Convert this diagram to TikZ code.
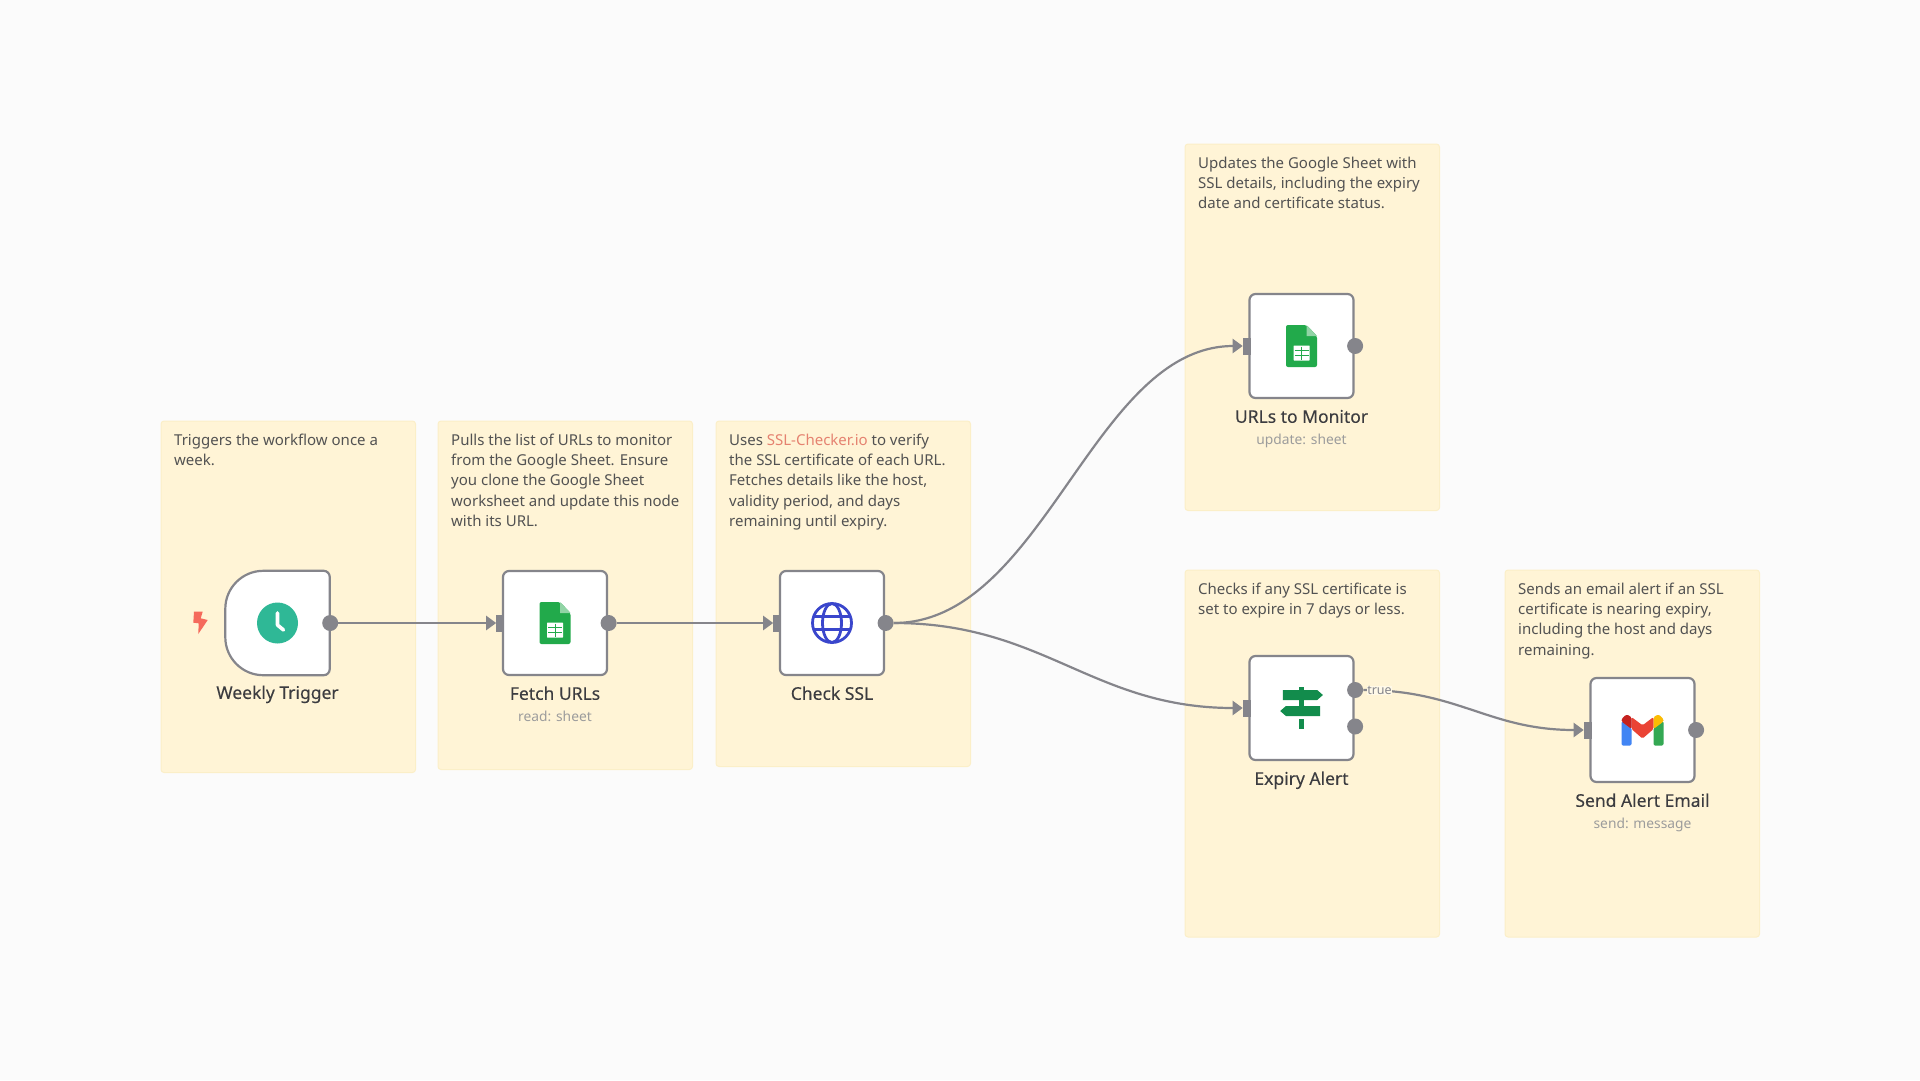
\documentclass[tikz,border=0pt]{standalone}
\usepackage{fontspec}
\setmainfont{Noto Sans}
\newfontfamily\titlefont[FakeBold=0.15]{Noto Sans}
\usetikzlibrary{arrows.meta, positioning, calc}
\definecolor{pagebg}{HTML}{FBFBFB}
\definecolor{notefill}{HTML}{FFF4D6}
\definecolor{noteedge}{HTML}{FBEFC8}
\definecolor{edgegrey}{HTML}{85858B}
\definecolor{bodytext}{HTML}{525252}
\definecolor{titletext}{HTML}{3C3C40}
\definecolor{subtext}{HTML}{9C9C9C}
\definecolor{linktext}{HTML}{E58270}
\definecolor{sheetgreen}{HTML}{22AA4B}
\definecolor{signgreen}{HTML}{128C4C}
\definecolor{clockgreen}{HTML}{2FB896}
\definecolor{globeblue}{HTML}{3A46CC}
\definecolor{boltred}{HTML}{F56A5C}
\definecolor{mailblue}{HTML}{4285F4}
\definecolor{mailgreen}{HTML}{34A853}
\definecolor{mailred}{HTML}{EA4335}
\definecolor{maildark}{HTML}{C5221F}
\definecolor{mailyellow}{HTML}{FBBC04}

\begin{document}
\begin{tikzpicture}[x=1pt, y=-1pt]
\tikzset{
  note/.style={
    draw=noteedge,
    fill=notefill,
    line width=1pt,
    rounded corners=3pt,
    anchor=north west,
    minimum width=254.5pt
  },
  notetext/.style={
    anchor=north west,
    align=left,
    inner sep=0pt,
    text=bodytext,
    font=\fontsize{15}{20.3}\selectfont
  },
  stepbox/.style={
    draw=edgegrey,
    fill=white,
    line width=2.2pt,
    rounded corners=6pt,
    minimum width=104pt,
    minimum height=104pt,
    inner sep=0pt
  },
  inport/.style={
    fill=edgegrey,
    minimum width=8pt,
    minimum height=17pt,
    inner sep=0pt,
    xshift=-1.5pt
  },
  outport/.style={
    circle,
    fill=edgegrey,
    minimum size=16pt,
    inner sep=0pt,
    xshift=0.5pt
  },
  steptitle/.style={
    below=10.5pt of #1,
    inner sep=0pt,
    text height=13pt,
    text depth=4pt,
    text=titletext,
    font=\fontsize{17.5}{20}\titlefont
  },
  stepsub/.style={
    below=7pt of #1,
    inner sep=0pt,
    text height=10pt,
    text depth=3pt,
    text=subtext,
    font=\fontsize{13.8}{16}\selectfont
  },
  wire/.style={
    draw=edgegrey,
    line width=2.2pt,
    -{Triangle[length=10pt,width=14pt]}
  },
  truelabel/.style={
    fill=notefill!55!white,
    inner sep=0.5pt,
    text=edgegrey,
    font=\fontsize{12.5}{14}\selectfont
  },
  sheeticon/.pic={
    \fill[sheetgreen, rounded corners=2pt] (-15.5,-21) -- (5,-21) -- (15.5,-10) -- (15.5,21) -- (-15.5,21) -- cycle;
    \fill[sheetgreen!50!white] (5,-21) -- (15.5,-10) -- (5,-10) -- cycle;
    \fill[white, rounded corners=0.5pt] (-8,-0.5) rectangle (8,14.5);
    \draw[sheetgreen, line width=1pt] (-7,4.5) -- (7,4.5) (-7,9.5) -- (7,9.5) (0,0.5) -- (0,13.5);
  }
}
\fill[pagebg] (0,0) rectangle (1920,1080);
\useasboundingbox (0,0) rectangle (1920,1080);

% Sticky notes behind the steps
\node[note, minimum height=351.5pt] (note1) at (160.5,420.5) {};
\node[note, minimum height=348.5pt] (note2) at (437.5,420.5) {};
\node[note, minimum height=345.5pt] (note3) at (715.5,420.5) {};
\node[note, minimum height=366.5pt] (note4) at (1184.5,143.5) {};
\node[note, minimum height=367pt] (note5) at (1184.5,569.5) {};
\node[note, minimum height=367pt] (note6) at (1504.5,569.5) {};

% Note texts
\node[notetext] (text1) at (174,433.5) {Triggers the workflow once a\\week.};
\node[notetext] (text2) at (451,433.5) {Pulls the list of URLs to monitor\\from the Google Sheet. Ensure\\you clone the Google Sheet\\worksheet and update this node\\with its URL.};
\node[notetext] (text3) at (729,433.5) {Uses \textcolor{linktext}{SSL-Checker.io} to verify\\the SSL certificate of each URL.\\Fetches details like the host,\\validity period, and days\\remaining until expiry.};
\node[notetext] (text4) at (1198,156.5) {Updates the Google Sheet with\\SSL details, including the expiry\\date and certificate status.};
\node[notetext] (text5) at (1198,582.5) {Checks if any SSL certificate is\\set to expire in 7 days or less.};
\node[notetext] (text6) at (1518,582.5) {Sends an email alert if an SSL\\certificate is nearing expiry,\\including the host and days\\remaining.};

% Steps
\node[minimum width=104pt, minimum height=104pt, inner sep=0pt] (trigger) at (277.5,623) {};
\draw[draw=edgegrey, fill=white, line width=2.2pt, rounded corners=6pt] (trigger.north east) -- (trigger.south east) [rounded corners=38pt] -- (trigger.south west) -- (trigger.north west) [rounded corners=6pt] -- cycle;
\node[stepbox] (fetch) at (555,623) {};
\node[stepbox] (check) at (832,623) {};
\node[stepbox] (urls) at (1301.5,346) {};
\node[stepbox] (expiry) at (1301.5,708) {};
\node[stepbox] (send) at (1642.5,730) {};

% Ports
\node[outport] (triggerout) at (trigger.east) {};
\node[inport] (fetchin) at (fetch.west) {};
\node[outport] (fetchout) at (fetch.east) {};
\node[inport] (checkin) at (check.west) {};
\node[outport] (checkout) at (check.east) {};
\node[inport] (urlsin) at (urls.west) {};
\node[outport] (urlsout) at (urls.east) {};
\node[inport] (expiryin) at (expiry.west) {};
\node[outport] (expirytrue) at ($(expiry.east)+(0,-18)$) {};
\node[outport] (expiryfalse) at ($(expiry.east)+(0,18.5)$) {};
\node[inport] (sendin) at (send.west) {};
\node[outport] (sendout) at (send.east) {};

% Step names
\node[steptitle=trigger] (triggername) {Weekly Trigger};
\node[steptitle=fetch] (fetchname) {Fetch URLs};
\node[stepsub=fetchname] (fetchsub) {read: sheet};
\node[steptitle=check] (checkname) {Check SSL};
\node[steptitle=urls] (urlsname) {URLs to Monitor};
\node[stepsub=urlsname] (urlssub) {update: sheet};
\node[steptitle=expiry] (expiryname) {Expiry Alert};
\node[steptitle=send] (sendname) {Send Alert Email};
\node[stepsub=sendname] (sendsub) {send: message};

% Connectors
\draw[wire] (triggerout.east) -- (fetchin.west);
\draw[wire] (fetchout.east) -- (checkin.west);
\draw[wire] (checkout.east) .. controls +(150,0) and +(-150,0) .. (urlsin.west);
\draw[wire] (checkout.east) .. controls +(150,0) and +(-150,0) .. (expiryin.west);
\draw[wire] (expirytrue.east) .. controls +(95,0) and +(-95,0) .. (sendin.west);
\node[truelabel] (truetext) at (1379.5,690.7) {true};

% Trigger bolt and clock
\fill[boltred] (194,611.7) -- (202.7,611.7) -- (200.7,618.3) -- (207.7,620) -- (198.3,634) -- (198.7,623.3) -- (193.3,622.7) -- cycle;
\begin{scope}[shift={(trigger.center)}]
  \fill[clockgreen] (0,0) circle (20.5);
  \draw[white, line width=3.6pt, line cap=round, line join=round] (0,-10) -- (0,2) -- (6,7);
\end{scope}

% Sheet icons
\pic at (fetch.center) {sheeticon};
\pic at (urls.center) {sheeticon};

% Globe
\begin{scope}[shift={(check.center)}, globeblue, line width=2.8pt]
  \draw (0,0) circle (19.5);
  \draw (0,0) ellipse (9.5 and 19.5);
  \draw (-18.4,-6.5) -- (18.4,-6.5) (-18.4,6.5) -- (18.4,6.5);
\end{scope}

% Signpost
\begin{scope}[shift={(expiry.center)}, signgreen]
  \fill (-18.6,-18) -- (15.7,-18) -- (21.4,-13) -- (15.7,-8) -- (-18.6,-8) -- cycle;
  \fill (18.7,-2) -- (-15.6,-2) -- (-21.3,3) -- (-15.6,8) -- (18.7,8) -- cycle;
  \fill (-2.5,-21) rectangle (2.5,-18);
  \fill (-2.5,-8) rectangle (2.5,-2);
  \fill (-2.5,11.3) rectangle (2.5,21.3);
\end{scope}

% Mail icon
\begin{scope}[shift={(send.center)}, rounded corners=1.5pt]
  \fill[mailblue] (-21,-9) -- (-11,-2) -- (-11,15.7) -- (-21,15.7) -- cycle;
  \fill[mailgreen] (21,-9) -- (11,-2) -- (11,15.7) -- (21,15.7) -- cycle;
  \fill[mailred] (-11,-13) -- (0,-4.7) -- (11,-13) -- (11,-1) -- (0,8.6) -- (-11,-1) -- cycle;
  \fill[maildark] (-21,-11) -- (-16,-15.7) -- (-11,-13) -- (-11,-1) -- (-21,-8.5) -- cycle;
  \fill[mailyellow] (21,-11) -- (16,-15.7) -- (11,-13) -- (11,-1) -- (21,-8.5) -- cycle;
\end{scope}
\end{tikzpicture}
\end{document}
